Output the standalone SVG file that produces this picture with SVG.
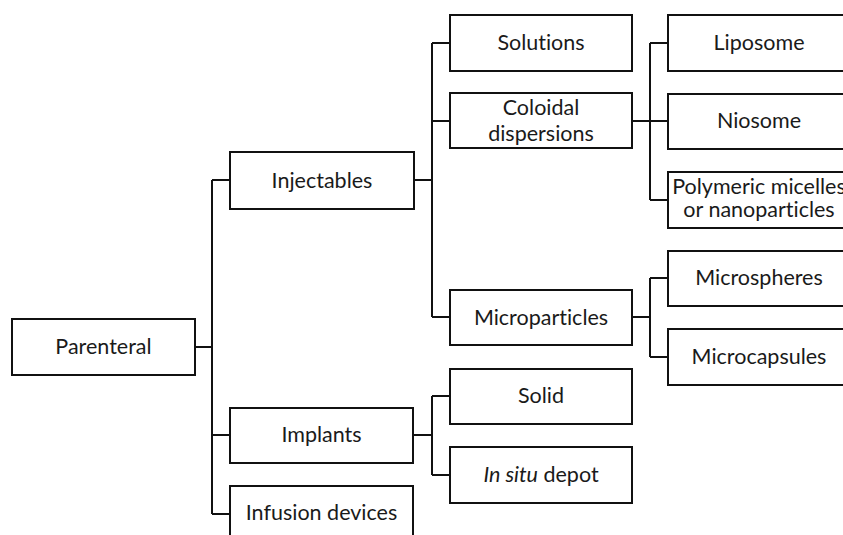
<svg xmlns="http://www.w3.org/2000/svg" width="843" height="535" viewBox="0 0 843 535">
  <style>
    .box { fill: #ffffff; stroke: #111111; stroke-width: 2; }
    .lbl { font-family: Lato, "Open Sans", "Liberation Sans", sans-serif; font-size: 21.5px; fill: #1a1a1a; text-anchor: middle; font-variant-ligatures: none; }
    .wire { fill: none; stroke: #111111; stroke-width: 2; }
  </style>
  <rect width="843" height="535" fill="#ffffff"/>

  <!-- tree connectors -->
  <g id="connectors" class="wire">
    <path d="M195,347 H212 M212,180 V514 M212,180 H230 M212,435 H230 M212,514 H230"/>
    <path d="M414,180 H432 M432,43 V317 M432,43 H450 M432,121 H450 M432,317 H450"/>
    <path d="M632,121 H668 M650,43 V200 M650,43 H668 M650,200 H668"/>
    <path d="M632,317 H650 M650,278 V357 M650,278 H668 M650,357 H668"/>
    <path d="M413,435 H432 M432,396 V475 M432,396 H450 M432,475 H450"/>
  </g>

  <g id="parenteral"><rect class="box" x="12" y="319" width="183" height="56"/><text class="lbl" x="103.5" y="354">Parenteral</text></g>
  <g id="injectables"><rect class="box" x="230" y="152" width="184" height="57"/><text class="lbl" x="322" y="188">Injectables</text></g>
  <g id="implants"><rect class="box" x="230" y="408" width="183" height="55"/><text class="lbl" x="321.5" y="442">Implants</text></g>
  <g id="infusion-devices"><rect class="box" x="230" y="486" width="183" height="60"/><text class="lbl" x="321.5" y="520">Infusion devices</text></g>

  <g id="solutions"><rect class="box" x="450" y="15" width="182" height="56"/><text class="lbl" x="541" y="50">Solutions</text></g>
  <g id="coloidal-dispersions"><rect class="box" x="450" y="93" width="182" height="55"/><text class="lbl" x="541" y="115">Coloidal</text><text class="lbl" x="541" y="141">dispersions</text></g>
  <g id="microparticles"><rect class="box" x="450" y="290" width="182" height="55"/><text class="lbl" x="541" y="325">Microparticles</text></g>
  <g id="solid"><rect class="box" x="450" y="369" width="182" height="55"/><text class="lbl" x="541" y="403">Solid</text></g>
  <g id="in-situ-depot"><rect class="box" x="450" y="447" width="182" height="56"/><text class="lbl" x="541" y="482"><tspan font-style="italic">In situ</tspan> depot</text></g>

  <g id="liposome"><rect class="box" x="668" y="15" width="182" height="56"/><text class="lbl" x="759" y="50">Liposome</text></g>
  <g id="niosome"><rect class="box" x="668" y="94" width="182" height="55"/><text class="lbl" x="759" y="128">Niosome</text></g>
  <g id="polymeric"><rect class="box" x="668" y="172" width="182" height="56"/><text class="lbl" x="759" y="194">Polymeric micelles</text><text class="lbl" x="759" y="217">or nanoparticles</text></g>
  <g id="microspheres"><rect class="box" x="668" y="251" width="182" height="55"/><text class="lbl" x="759" y="285">Microspheres</text></g>
  <g id="microcapsules"><rect class="box" x="668" y="329" width="182" height="56"/><text class="lbl" x="759" y="364">Microcapsules</text></g>
</svg>
